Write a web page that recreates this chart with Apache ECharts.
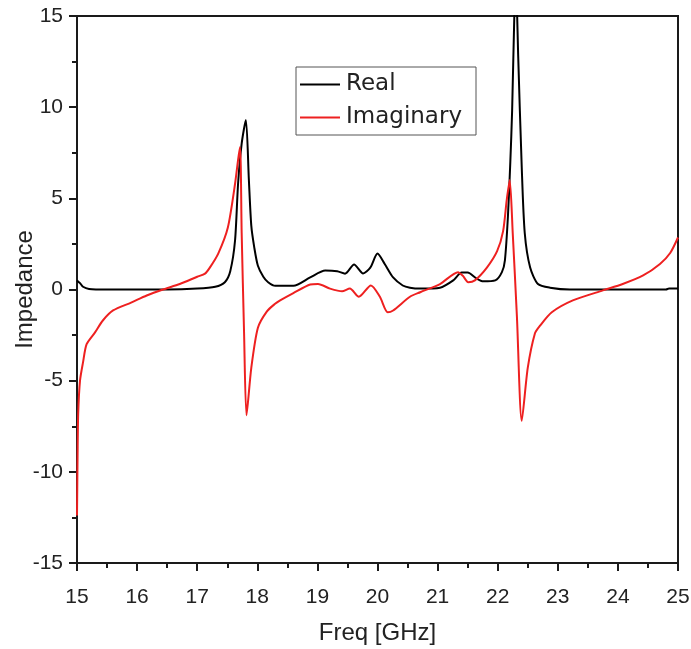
<!DOCTYPE html>
<html>
<head>
<meta charset="utf-8">
<style>
  html, body { margin: 0; padding: 0; background: #fff; }
  #chart { width: 691px; height: 649px; }
</style>
<script src="https://cdn.jsdelivr.net/npm/echarts@6/dist/echarts.min.js"></script>
</head>
<body>
<div id="chart"></div>
<script>
// values
const realFreq = [15.0, 15.05, 15.1, 15.2, 15.5, 16.0, 16.5, 17.0, 17.3, 17.46, 17.55, 17.63, 17.68, 17.74, 17.81, 17.86, 17.9, 17.95, 18.01, 18.1, 18.18, 18.3, 18.6, 18.88, 19.13, 19.33, 19.46, 19.61, 19.76, 19.88, 20.0, 20.12, 20.26, 20.42, 20.54, 20.71, 21.04, 21.26, 21.4, 21.5, 21.65, 21.76, 21.96, 22.07, 22.12, 22.17, 22.21, 22.24, 22.28, 22.3, 22.32, 22.34, 22.4, 22.45, 22.54, 22.67, 22.87, 23.2, 24.0, 24.8, 24.85, 25.0]
const realVal = [0.5, 0.35, 0.15, 0.03, 0, 0, 0, 0.05, 0.15, 0.4, 1.0, 2.7, 5.8, 8.0, 9.3, 6.0, 3.5, 2.3, 1.3, 0.7, 0.4, 0.2, 0.2, 0.66, 1.04, 1.0, 0.87, 1.37, 0.88, 1.2, 1.97, 1.4, 0.66, 0.22, 0.1, 0.05, 0.1, 0.5, 0.93, 0.93, 0.6, 0.45, 0.5, 0.95, 1.6, 4.0, 7.0, 9.8, 15.5, 17, 15.5, 12.9, 6.7, 3.1, 1.2, 0.3, 0.1, 0, 0, 0, 0.05, 0.05]

const imagFreq = [15.0, 15.01, 15.02, 15.05, 15.1, 15.16, 15.3, 15.43, 15.6, 15.9, 16.16, 16.43, 16.71, 17.0, 17.13, 17.21, 17.35, 17.51, 17.63, 17.71, 17.74, 17.78, 17.82, 17.9, 18.01, 18.16, 18.29, 18.38, 18.6, 18.88, 19.01, 19.21, 19.41, 19.54, 19.69, 19.89, 20.04, 20.17, 20.26, 20.54, 20.71, 21.04, 21.34, 21.42, 21.51, 21.62, 21.82, 21.99, 22.09, 22.15, 22.2, 22.25, 22.32, 22.4, 22.5, 22.62, 22.7, 22.9, 23.25, 23.75, 24.08, 24.42, 24.7, 24.87, 25.0]
const imagVal = [-12.4, -9.0, -6.8, -5.0, -4.0, -3.0, -2.35, -1.7, -1.15, -0.72, -0.33, 0, 0.3, 0.7, 0.87, 1.2, 1.97, 3.4, 5.8, 7.8, 3.1, -2.4, -6.9, -4.3, -2.1, -1.2, -0.8, -0.6, -0.2, 0.27, 0.3, 0.05, -0.1, 0.05, -0.4, 0.22, -0.4, -1.25, -1.15, -0.4, -0.15, 0.3, 0.95, 0.75, 0.4, 0.5, 1.2, 2.1, 3.2, 4.9, 6.0, 3.1, -1.5, -7.2, -4.3, -2.4, -2.0, -1.25, -0.6, -0.05, 0.3, 0.77, 1.4, 2.0, 2.85]

const pair = (xs, ys) => xs.map((x, i) => [x, ys[i]])

const chart = echarts.init(document.getElementById('chart'))
const font = 'Liberation Sans, Arial, sans-serif'
const axisColor = '#1a1a1a'
chart.setOption({
  animation: false,
  grid: {
    left: 77, right: 13, top: 16, bottom: 86,
    outerBoundsMode: 'none',
    containLabel: false,
    show: true, borderColor: axisColor, borderWidth: 2
  },
  legend: {
    orient: 'vertical',
    left: 296, top: 67,
    padding: [6, 14, 6, 4],
    itemGap: 10,
    itemWidth: 40,
    itemHeight: 2,
    icon: 'rect',
    backgroundColor: '#fff',
    borderColor: '#555',
    borderWidth: 1,
    borderRadius: 0,
    textStyle: { fontFamily: 'DejaVu Sans', fontSize: 23, color: '#222', padding: [0, 0, 0, 1] },
    data: ['Real', 'Imaginary']
  },
  xAxis: {
    type: 'value',
    min: 15, max: 25, interval: 1,
    name: 'Freq [GHz]',
    nameLocation: 'middle',
    nameGap: 58,
    nameMoveOverlap: false,
    nameTextStyle: { fontFamily: font, fontSize: 24, color: '#222' },
    axisLine: { onZero: false, lineStyle: { color: axisColor, width: 2 } },
    axisTick: { inside: false, length: 8, lineStyle: { color: axisColor, width: 2 } },
    minorTick: { show: true, splitNumber: 2, length: 5, lineStyle: { color: axisColor, width: 2 } },
    axisLabel: { fontFamily: font, fontSize: 21, color: '#222', margin: 24 },
    splitLine: { show: false }
  },
  yAxis: {
    type: 'value',
    min: -15, max: 15, interval: 5,
    name: 'Impedance',
    nameLocation: 'middle',
    nameRotate: 90,
    nameGap: 40,
    nameMoveOverlap: false,
    nameTextStyle: { fontFamily: font, fontSize: 24, color: '#222' },
    axisLine: { onZero: false, lineStyle: { color: axisColor, width: 2 } },
    axisTick: { inside: false, length: 8, lineStyle: { color: axisColor, width: 2 } },
    minorTick: { show: true, splitNumber: 2, length: 5, lineStyle: { color: axisColor, width: 2 } },
    axisLabel: { fontFamily: font, fontSize: 21, color: '#222', margin: 14 },
    splitLine: { show: false }
  },
  series: [
    {
      name: 'Real',
      type: 'line',
      symbol: 'none',
      smooth: 0.25,
      clip: true,
      lineStyle: { color: '#000', width: 2 },
      itemStyle: { color: '#000' },
      data: pair(realFreq, realVal)
    },
    {
      name: 'Imaginary',
      type: 'line',
      symbol: 'none',
      smooth: 0.25,
      clip: true,
      lineStyle: { color: '#ee2020', width: 2 },
      itemStyle: { color: '#ee2020' },
      data: pair(imagFreq, imagVal)
    }
  ]
})
</script>
</body>
</html>
